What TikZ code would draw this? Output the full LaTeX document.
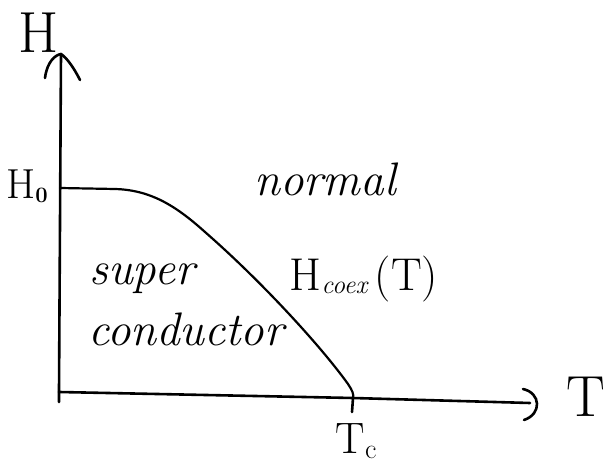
\documentclass[tikz,border=0pt]{standalone}
\usepackage{fontspec}
\usetikzlibrary{arrows.meta}
\tikzset{
  axis/.style={line width=2.6pt, line cap=round, line join=round},
  curve/.style={line width=2.2pt, line cap=round, line join=round},
  axlabel/.style={inner sep=0pt, font=\fontsize{58}{58}\selectfont},
  region/.style={inner sep=0pt, font=\itshape\fontsize{47}{47}\selectfont},
}
\begin{document}
\begin{tikzpicture}[x=1pt,y=-1pt]
  \useasboundingbox (0,0) rectangle (608,470);
  % axes
  \coordinate (O) at (59,392);
  \coordinate (Htop) at (61,54);
  \coordinate (Tend) at (530,403);
  \coordinate (Tc) at (353,398);
  \draw[axis] (59,402) -- (O) -- (Htop);
  \draw[axis] (O) -- (Tc) -- (Tend);
  % open arrow head on the H axis
  \draw[axis] (45,78) .. controls (47,62) and (55,55) .. (Htop)
              .. controls (67,58) and (74,68) .. (80,80);
  % bracket end of the T axis
  \draw[axis] (523,389) .. controls (541,393) and (542,414) .. (524,420);
  % tick at T_c
  \draw[axis] (Tc) -- (352,412);
  % coexistence curve
  \coordinate (H0) at (60,188);
  \draw[curve] (H0) -- (115,189)
    .. controls (150,190) and (175,205) .. (205,232)
    .. controls (260,280) and (320,345) .. (348,384)
    .. controls (352,390) and (354,394) .. (Tc);
  % labels
  \node[axlabel] (hlab) at (39,33) {H};
  \node[axlabel] (tlab) at (586,397) {T};
  \node[inner sep=0pt, font=\fontsize{42}{42}\selectfont] (h0lab) at (27,186)
    {H\raisebox{-4pt}{\bfseries\fontsize{22}{22}\selectfont 0}};
  \node[inner sep=0pt, font=\fontsize{44}{44}\selectfont] (tclab) at (356,441)
    {T\raisebox{-5pt}{\fontsize{28}{28}\selectfont c}};
  \node[region] (normal) at (325,179) {normal};
  \node[region] (super) at (142,279) {super};
  \node[region] (cond) at (186,329) {conductor};
  \node[inner sep=0pt, font=\fontsize{46}{46}\selectfont] (hcoex) at (364,279)
    {H\raisebox{-3pt}{\itshape\fontsize{26}{26}\selectfont coex}\,(T)};
\end{tikzpicture}
\end{document}
